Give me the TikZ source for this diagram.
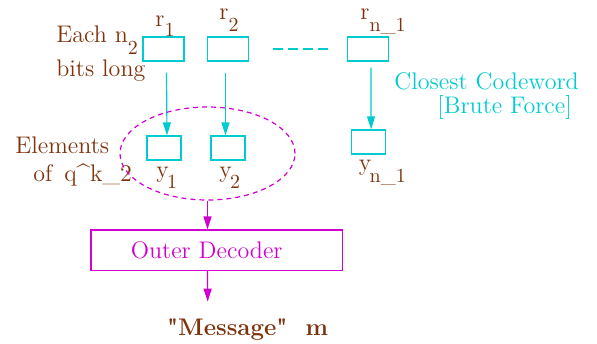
\documentclass[tikz,border=0pt]{standalone}
\usepackage{fontspec}
\usepackage{tikz}
\usetikzlibrary{arrows.meta,shapes.geometric}

\definecolor{codecyan}{RGB}{0,204,208}
\definecolor{outermag}{RGB}{208,0,208}
\definecolor{lblbrown}{RGB}{125,52,14}

% lowered index, set a little smaller
\newcommand{\lowsub}[2][5pt]{\raisebox{-#1}{\fontsize{10}{10}\selectfont #2}}

\tikzset{
  wordbox/.style={draw=codecyan, line width=0.6pt, inner sep=0pt,
    minimum width=20.5pt, minimum height=12pt},
  symbox/.style={wordbox, minimum width=17pt},
  lbl/.style={text=lblbrown, anchor=base west, inner sep=0pt,
    font=\fontsize{12}{14}\selectfont},
  cyanarr/.style={draw=codecyan, line width=0.6pt, -{Triangle[length=6.5pt,width=4pt]}},
  magarr/.style={draw=outermag, line width=0.6pt, -{Triangle[length=6.5pt,width=4pt]}},
}

\begin{document}
\begin{tikzpicture}[x=0.5pt,y=0.5pt]
\useasboundingbox (0,0) rectangle (597,343);

% received blocks
\node[wordbox] (r1) at (163.5,294) {};
\node[wordbox] (r2) at (228,294) {};
\node[wordbox] (rn) at (368.3,294) {};
\coordinate (gapa) at (273,294);
\coordinate (gapb) at (331,294);
\draw[codecyan, line width=0.9pt, dash pattern=on 5pt off 2.5pt] (gapa) -- (gapb);

\node[lbl] (r1lbl) at (155,316) {r\lowsub{1}};
\node[lbl] (r2lbl) at (219,323) {r\lowsub[6pt]{2}};
\node[lbl] (rnlbl) at (360,323) {r\lowsub[6pt]{n\_1}};

\node[lbl] (each) at (56,300) {Each n\lowsub[6pt]{2}};
\node[lbl] (bits) at (56,266) {bits long};

% decoded symbols
\node[symbox] (y1) at (164,195) {};
\node[symbox] (y2) at (228,195) {};
\node[symbox] (yn) at (368.5,201) {};

\node[lbl] (y1lbl) at (156,166) {y\kern-0.8pt\lowsub[5.5pt]{1}};
\node[lbl] (y2lbl) at (219,166) {y\kern-0.8pt\lowsub[5.5pt]{2}};
\node[lbl] (ynlbl) at (358.5,172.5) {y\kern-0.8pt\lowsub[5.8pt]{n\_1}};

\draw[cyanarr] ([xshift=1.5pt,yshift=-5.5pt]r1.south) -- ([xshift=1.5pt]y1.north);
\draw[cyanarr] ([xshift=-1.25pt,yshift=-5.5pt]r2.south) -- ([xshift=-1.25pt]y2.north);
\draw[cyanarr] ([xshift=1.3pt,yshift=-3pt]rn.south) -- ([xshift=1.3pt]yn.north);

\node[lbl, text=codecyan] (closest) at (394,253.7) {Closest Codeword};
\node[lbl, text=codecyan] (brute) at (437,229.7) {[Brute Force]};

\node[lbl] (elem) at (15,189.7) {Elements};
\node[lbl] (ofq) at (33,161.3) {of\hspace{6pt}q\textasciicircum k\_2};

% group of inner symbols
\node[ellipse, draw=outermag, line width=0.6pt, dash pattern=on 2.5pt off 2pt,
  inner sep=0pt, minimum width=87.5pt, minimum height=46.5pt] (grp) at (207.5,189.5) {};

% outer stage
\node[draw=outermag, line width=0.6pt, inner sep=0pt,
  minimum width=125.9pt, minimum height=20.3pt] (dec) at (216.8,92.7) {};
\node[lbl, anchor=base, text=outermag] (declbl) at (206.7,84.7) {Outer Decoder};
\coordinate (msgtop) at (207.7,41.3);

\draw[magarr] (grp.south) -- (grp.south |- dec.north);
\draw[magarr] (grp.south |- dec.south) -- (msgtop);

\node[lbl] (msg) at (166.7,8) {\bfseries \textquotedbl Message\textquotedbl\hspace{9pt}m};

\end{tikzpicture}
\end{document}
